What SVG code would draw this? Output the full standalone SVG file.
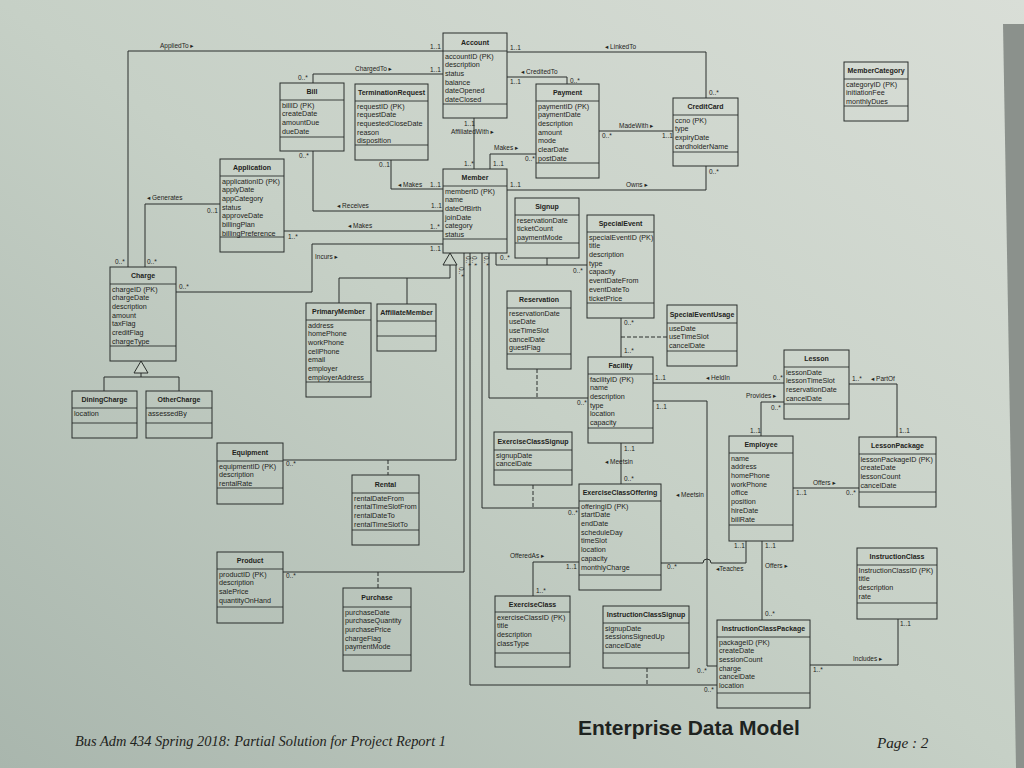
<svg xmlns="http://www.w3.org/2000/svg" width="1024" height="768" viewBox="0 0 1024 768">
<style>
.node rect{fill:none;stroke:#2a2f2c;stroke-width:1}
.node line{stroke:#2a2f2c;stroke-width:0.9}
.n{font-family:"Liberation Sans","DejaVu Sans",sans-serif;font-weight:bold;font-size:7px;text-anchor:middle;fill:#1e2320}
.a{font-family:"Liberation Sans","DejaVu Sans",sans-serif;font-size:7.2px;fill:#1e2320}
.m{font-family:"Liberation Sans","DejaVu Sans",sans-serif;font-size:6.5px;fill:#1e2320}
.l{font-family:"Liberation Sans","DejaVu Sans",sans-serif;font-size:6.5px;fill:#1e2320}
.c{fill:none;stroke:#2a2f2c;stroke-width:1}
.d{fill:none;stroke:#2a2f2c;stroke-width:1;stroke-dasharray:4 2}
.tri{fill:#c9d2c8;stroke:#2a2f2c;stroke-width:1}
</style>
<defs>
<linearGradient id="paper" x1="1" y1="0" x2="0" y2="1">
<stop offset="0" stop-color="#d9ded7"/>
<stop offset="0.5" stop-color="#c6d0c6"/>
<stop offset="1" stop-color="#a9b6ad"/>
</linearGradient>
</defs>
<rect width="1024" height="768" fill="url(#paper)"/>
<polygon points="1003,24 1024,24 1024,768 1016,768" fill="#8b918c"/>

<g id="connectors">
<polyline class="c" points="128,267 128,51 443,51"/>
<text class="l" x="160" y="48">AppliedTo ▸</text>
<text class="m" x="430" y="49">1..1</text>
<text class="m" x="115" y="264">0..*</text>
<polyline class="c" points="313,83 313,74 443,74"/>
<text class="l" x="355" y="71">ChargedTo ▸</text>
<text class="m" x="430" y="72">1..1</text>
<text class="m" x="298" y="80">0..*</text>
<polyline class="c" points="507,52 706,52 706,98"/>
<text class="l" x="605" y="49">◂ LinkedTo</text>
<text class="m" x="510" y="50">1..1</text>
<text class="m" x="709" y="95">0..*</text>
<polyline class="c" points="507,77 567,77 567,84"/>
<text class="l" x="521" y="74">◂ CreditedTo</text>
<text class="m" x="510" y="84">1..1</text>
<text class="m" x="570" y="83">0..*</text>
<line class="c" x1="474" y1="118" x2="474" y2="169"/>
<text class="m" x="464" y="126">1..1</text>
<text class="l" x="451" y="134">AffiliatedWith ▸</text>
<text class="m" x="464" y="166">1..*</text>
<polyline class="c" points="490,169 490,154 536,154"/>
<text class="l" x="494" y="150">Makes ▸</text>
<text class="m" x="493" y="166">1..1</text>
<text class="m" x="525" y="161">0..*</text>
<line class="c" x1="599" y1="131" x2="673" y2="131"/>
<text class="l" x="619" y="128">MadeWith ▸</text>
<text class="m" x="602" y="138">0..*</text>
<text class="m" x="662" y="138">1..1</text>
<polyline class="c" points="507,190 706,190 706,166"/>
<text class="l" x="626" y="187">Owns ▸</text>
<text class="m" x="510" y="187">1..1</text>
<text class="m" x="709" y="174">0..*</text>
<polyline class="c" points="391,160 391,189 443,189"/>
<text class="l" x="398" y="187">◂ Makes</text>
<text class="m" x="430" y="187">1..1</text>
<text class="m" x="379" y="167">0..1</text>
<polyline class="c" points="313,151 313,211 443,211"/>
<text class="l" x="337" y="208">◂ Receives</text>
<text class="m" x="431" y="208">1..1</text>
<text class="m" x="299" y="158">0..*</text>
<line class="c" x1="284" y1="231" x2="443" y2="231"/>
<text class="l" x="348" y="228">◂ Makes</text>
<text class="m" x="430" y="229">1..*</text>
<text class="m" x="288" y="239">1..*</text>
<polyline class="c" points="176,292 312,292 312,244 443,244"/>
<text class="l" x="315" y="259">Incurs ▸</text>
<text class="m" x="430" y="251">1..1</text>
<text class="m" x="179" y="289">0..*</text>
<polyline class="c" points="145,267 145,204 220,204"/>
<text class="l" x="147" y="200">◂ Generates</text>
<text class="m" x="207" y="213">0..1</text>
<text class="m" x="147" y="264">0..*</text>
<polygon class="tri" points="141,361 134,373 148,373"/>
<polyline class="c" points="141,373 141,377"/>
<polyline class="c" points="104,391 104,377 179,377 179,391"/>
<polygon class="tri" points="450,253 443,265 457,265"/>
<polyline class="c" points="450,265 450,278"/>
<polyline class="c" points="339,303 339,278 450,278"/>
<line class="c" x1="407" y1="278" x2="407" y2="304"/>
<polyline class="c" points="456,265 456,460 283,460"/>
<line class="d" x1="388" y1="460" x2="388" y2="475"/>
<text class="m" x="286" y="466">0..*</text>
<polyline class="c" points="464,253 464,572 283,572"/>
<line class="d" x1="378" y1="572" x2="378" y2="588"/>
<text class="m" x="286" y="578">0..*</text>
<polyline class="c" points="470,253 470,685 717,685"/>
<line class="d" x1="647" y1="668" x2="647" y2="685"/>
<text class="m" x="704" y="692">0..*</text>
<polyline class="c" points="482,253 482,508 579,508"/>
<line class="d" x1="533" y1="485" x2="533" y2="508"/>
<text class="m" x="568" y="515">0..*</text>
<polyline class="c" points="489,253 489,398 588,398"/>
<line class="d" x1="537" y1="369" x2="537" y2="398"/>
<text class="m" x="577" y="405">0..*</text>
<polyline class="c" points="496,253 496,265 587,265"/>
<line class="c" x1="547" y1="258" x2="547" y2="265"/>
<text class="m" x="500" y="260">0..*</text>
<text class="m" x="573" y="273">0..*</text>
<text class="m" transform="translate(459,267) rotate(90)">0..*</text>
<text class="m" transform="translate(466,256) rotate(90)">0..*</text>
<text class="m" transform="translate(472,256) rotate(90)">0..*</text>
<text class="m" transform="translate(484,256) rotate(90)">0..*</text>
<line class="c" x1="621" y1="318" x2="621" y2="357"/>
<line class="d" x1="621" y1="337" x2="667" y2="337"/>
<text class="m" x="624" y="325">0..*</text>
<text class="m" x="624" y="353">1..*</text>
<line class="c" x1="653" y1="383" x2="784" y2="383"/>
<text class="l" x="706" y="380">◂ HeldIn</text>
<text class="m" x="655" y="380">1..1</text>
<text class="m" x="773" y="380">0..*</text>
<polyline class="c" points="653,401 707,401 707,666 717,666"/>
<text class="m" x="656" y="409">1..1</text>
<text class="l" x="676" y="497">◂ Meetsin</text>
<text class="m" x="697" y="673">0..*</text>
<line class="c" x1="621" y1="443" x2="621" y2="484"/>
<text class="m" x="624" y="451">1..1</text>
<text class="l" x="605" y="464">◂ Meetsin</text>
<text class="m" x="624" y="481">0..*</text>
<polyline class="c" points="579,562 533,562 533,596"/>
<text class="l" x="510" y="558">OfferedAs ▸</text>
<text class="m" x="566" y="569">1..1</text>
<text class="m" x="536" y="593">1..*</text>
<path class="c" d="M661,563 H703 A4,4 0 0 1 711,563 H746 V541"/>
<text class="l" x="716" y="571">◂Teaches</text>
<text class="m" x="667" y="569">0..*</text>
<text class="m" x="734" y="548">1..1</text>
<line class="c" x1="762" y1="541" x2="762" y2="620"/>
<text class="m" x="765" y="548">1..1</text>
<text class="l" x="765" y="568">Offers ▸</text>
<text class="m" x="765" y="616">0..*</text>
<line class="c" x1="793" y1="488" x2="859" y2="488"/>
<text class="l" x="813" y="485">Offers ▸</text>
<text class="m" x="796" y="495">1..1</text>
<text class="m" x="846" y="495">0..*</text>
<polyline class="c" points="761,436 761,402 784,402"/>
<text class="l" x="746" y="398">Provides ▸</text>
<text class="m" x="771" y="410">0..*</text>
<text class="m" x="750" y="433">1..1</text>
<polyline class="c" points="849,384 897,384 897,437"/>
<text class="m" x="852" y="381">1..*</text>
<text class="l" x="871" y="381">◂ PartOf</text>
<text class="m" x="899" y="433">1..1</text>
<polyline class="c" points="810,665 898,665 898,619"/>
<text class="l" x="853" y="661">Includes ▸</text>
<text class="m" x="813" y="672">1..*</text>
<text class="m" x="900" y="626">1..1</text>
</g>

<g id="account" class="node"><rect x="443" y="33" width="64" height="85"/><line x1="443" y1="51" x2="507" y2="51"/><line x1="443" y1="104" x2="507" y2="104"/>
<text class="n" x="475" y="44.5">Account</text>
<text class="a" x="445" y="58.6">accountID (PK)</text><text class="a" x="445" y="67.3">description</text><text class="a" x="445" y="76">status</text><text class="a" x="445" y="84.7">balance</text><text class="a" x="445" y="93.4">dateOpened</text><text class="a" x="445" y="102.1">dateClosed</text></g>

<g id="bill" class="node"><rect x="280" y="83" width="64" height="68"/><line x1="280" y1="100" x2="344" y2="100"/><line x1="280" y1="137" x2="344" y2="137"/>
<text class="n" x="312" y="94">Bill</text>
<text class="a" x="282" y="107.6">billID (PK)</text><text class="a" x="282" y="116.3">createDate</text><text class="a" x="282" y="125">amountDue</text><text class="a" x="282" y="133.7">dueDate</text></g>

<g id="terminationrequest" class="node"><rect x="355" y="84" width="73" height="76"/><line x1="355" y1="101" x2="428" y2="101"/><line x1="355" y1="145" x2="428" y2="145"/>
<text class="n" x="391.5" y="95">TerminationRequest</text>
<text class="a" x="357" y="108.6">requestID (PK)</text><text class="a" x="357" y="117.3">requestDate</text><text class="a" x="357" y="126">requestedCloseDate</text><text class="a" x="357" y="134.7">reason</text><text class="a" x="357" y="143.4">disposition</text></g>

<g id="member" class="node"><rect x="443" y="169" width="64" height="84"/><line x1="443" y1="186" x2="507" y2="186"/><line x1="443" y1="239" x2="507" y2="239"/>
<text class="n" x="475" y="180">Member</text>
<text class="a" x="445" y="193.6">memberID (PK)</text><text class="a" x="445" y="202.3">name</text><text class="a" x="445" y="211">dateOfBirth</text><text class="a" x="445" y="219.7">joinDate</text><text class="a" x="445" y="228.4">category</text><text class="a" x="445" y="237.1">status</text></g>

<g id="payment" class="node"><rect x="536" y="84" width="63" height="94"/><line x1="536" y1="101" x2="599" y2="101"/><line x1="536" y1="163" x2="599" y2="163"/>
<text class="n" x="567.5" y="95">Payment</text>
<text class="a" x="538" y="108.6">paymentID (PK)</text><text class="a" x="538" y="117.3">paymentDate</text><text class="a" x="538" y="126">description</text><text class="a" x="538" y="134.7">amount</text><text class="a" x="538" y="143.4">mode</text><text class="a" x="538" y="152.1">clearDate</text><text class="a" x="538" y="160.8">postDate</text></g>

<g id="creditcard" class="node"><rect x="673" y="98" width="65" height="68"/><line x1="673" y1="115" x2="738" y2="115"/><line x1="673" y1="152" x2="738" y2="152"/>
<text class="n" x="705.5" y="109">CreditCard</text>
<text class="a" x="675" y="122.6">ccno (PK)</text><text class="a" x="675" y="131.3">type</text><text class="a" x="675" y="140">expiryDate</text><text class="a" x="675" y="148.7">cardholderName</text></g>

<g id="membercategory" class="node"><rect x="844" y="62" width="64" height="59"/><line x1="844" y1="79" x2="908" y2="79"/><line x1="844" y1="106" x2="908" y2="106"/>
<text class="n" x="876" y="73">MemberCategory</text>
<text class="a" x="846" y="86.6">categoryID (PK)</text><text class="a" x="846" y="95.3">initiationFee</text><text class="a" x="846" y="104">monthlyDues</text></g>

<g id="application" class="node"><rect x="220" y="159" width="64" height="93"/><line x1="220" y1="176" x2="284" y2="176"/><line x1="220" y1="237" x2="284" y2="237"/>
<text class="n" x="252" y="170">Application</text>
<text class="a" x="222" y="183.6">applicationID (PK)</text><text class="a" x="222" y="192.3">applyDate</text><text class="a" x="222" y="201">appCategory</text><text class="a" x="222" y="209.7">status</text><text class="a" x="222" y="218.4">approveDate</text><text class="a" x="222" y="227.1">billingPlan</text><text class="a" x="222" y="235.8">billingPreference</text></g>

<g id="signup" class="node"><rect x="515" y="198" width="64" height="60"/><line x1="515" y1="215" x2="579" y2="215"/><line x1="515" y1="243" x2="579" y2="243"/>
<text class="n" x="547" y="209">Signup</text>
<text class="a" x="517" y="222.6">reservationDate</text><text class="a" x="517" y="231.3">ticketCount</text><text class="a" x="517" y="240">paymentMode</text></g>

<g id="specialevent" class="node"><rect x="587" y="215" width="67" height="103"/><line x1="587" y1="232" x2="654" y2="232"/><line x1="587" y1="303" x2="654" y2="303"/>
<text class="n" x="620.5" y="226">SpecialEvent</text>
<text class="a" x="589" y="239.6">specialEventID (PK)</text><text class="a" x="589" y="248.3">title</text><text class="a" x="589" y="257">description</text><text class="a" x="589" y="265.7">type</text><text class="a" x="589" y="274.4">capacity</text><text class="a" x="589" y="283.1">eventDateFrom</text><text class="a" x="589" y="291.8">eventDateTo</text><text class="a" x="589" y="300.5">ticketPrice</text></g>

<g id="charge" class="node"><rect x="110" y="267" width="66" height="94"/><line x1="110" y1="284" x2="176" y2="284"/><line x1="110" y1="346" x2="176" y2="346"/>
<text class="n" x="143" y="278">Charge</text>
<text class="a" x="112" y="291.6">chargeID (PK)</text><text class="a" x="112" y="300.3">chargeDate</text><text class="a" x="112" y="309">description</text><text class="a" x="112" y="317.7">amount</text><text class="a" x="112" y="326.4">taxFlag</text><text class="a" x="112" y="335.1">creditFlag</text><text class="a" x="112" y="343.8">chargeType</text></g>

<g id="diningcharge" class="node"><rect x="72" y="391" width="65" height="47"/><line x1="72" y1="408" x2="137" y2="408"/><line x1="72" y1="423" x2="137" y2="423"/>
<text class="n" x="104.5" y="402">DiningCharge</text>
<text class="a" x="74" y="415.6">location</text></g>

<g id="othercharge" class="node"><rect x="146" y="391" width="66" height="47"/><line x1="146" y1="408" x2="212" y2="408"/><line x1="146" y1="423" x2="212" y2="423"/>
<text class="n" x="179" y="402">OtherCharge</text>
<text class="a" x="148" y="415.6">assessedBy</text></g>

<g id="equipment" class="node"><rect x="217" y="443" width="66" height="61"/><line x1="217" y1="461" x2="283" y2="461"/><line x1="217" y1="488" x2="283" y2="488"/>
<text class="n" x="250" y="455">Equipment</text>
<text class="a" x="219" y="468.6">equipmentID (PK)</text><text class="a" x="219" y="477.3">description</text><text class="a" x="219" y="486">rentalRate</text></g>

<g id="product" class="node"><rect x="217" y="552" width="66" height="71"/><line x1="217" y1="569" x2="283" y2="569"/><line x1="217" y1="607" x2="283" y2="607"/>
<text class="n" x="250" y="563">Product</text>
<text class="a" x="219" y="576.6">productID (PK)</text><text class="a" x="219" y="585.3">description</text><text class="a" x="219" y="594">salePrice</text><text class="a" x="219" y="602.7">quantityOnHand</text></g>

<g id="primarymember" class="node"><rect x="306" y="303" width="65" height="94"/><line x1="306" y1="320" x2="371" y2="320"/><line x1="306" y1="382" x2="371" y2="382"/>
<text class="n" x="338.5" y="314">PrimaryMember</text>
<text class="a" x="308" y="327.6">address</text><text class="a" x="308" y="336.3">homePhone</text><text class="a" x="308" y="345">workPhone</text><text class="a" x="308" y="353.7">cellPhone</text><text class="a" x="308" y="362.4">email</text><text class="a" x="308" y="371.1">employer</text><text class="a" x="308" y="379.8">employerAddress</text></g>

<g id="affiliatemember" class="node"><rect x="377" y="304" width="59" height="47"/><line x1="377" y1="321" x2="436" y2="321"/><line x1="377" y1="336" x2="436" y2="336"/>
<text class="n" x="406.5" y="315">AffiliateMember</text></g>

<g id="reservation" class="node"><rect x="507" y="291" width="64" height="78"/><line x1="507" y1="308" x2="571" y2="308"/><line x1="507" y1="354" x2="571" y2="354"/>
<text class="n" x="539" y="302">Reservation</text>
<text class="a" x="509" y="315.6">reservationDate</text><text class="a" x="509" y="324.3">useDate</text><text class="a" x="509" y="333">useTimeSlot</text><text class="a" x="509" y="341.7">cancelDate</text><text class="a" x="509" y="350.4">guestFlag</text></g>

<g id="specialeventusage" class="node"><rect x="667" y="305" width="70" height="61"/><line x1="667" y1="323" x2="737" y2="323"/><line x1="667" y1="351" x2="737" y2="351"/>
<text class="n" x="702" y="317">SpecialEventUsage</text>
<text class="a" x="669" y="330.6">useDate</text><text class="a" x="669" y="339.3">useTimeSlot</text><text class="a" x="669" y="348">cancelDate</text></g>

<g id="facility" class="node"><rect x="588" y="357" width="65" height="86"/><line x1="588" y1="374" x2="653" y2="374"/><line x1="588" y1="428" x2="653" y2="428"/>
<text class="n" x="620.5" y="368">Facility</text>
<text class="a" x="590" y="381.6">facilityID (PK)</text><text class="a" x="590" y="390.3">name</text><text class="a" x="590" y="399">description</text><text class="a" x="590" y="407.7">type</text><text class="a" x="590" y="416.4">location</text><text class="a" x="590" y="425.1">capacity</text></g>

<g id="lesson" class="node"><rect x="784" y="350" width="65" height="69"/><line x1="784" y1="367" x2="849" y2="367"/><line x1="784" y1="404" x2="849" y2="404"/>
<text class="n" x="816.5" y="361">Lesson</text>
<text class="a" x="786" y="374.6">lessonDate</text><text class="a" x="786" y="383.3">lessonTimeSlot</text><text class="a" x="786" y="392">reservationDate</text><text class="a" x="786" y="400.7">cancelDate</text></g>

<g id="employee" class="node"><rect x="729" y="436" width="64" height="105"/><line x1="729" y1="453" x2="793" y2="453"/><line x1="729" y1="525" x2="793" y2="525"/>
<text class="n" x="761" y="447">Employee</text>
<text class="a" x="731" y="460.6">name</text><text class="a" x="731" y="469.3">address</text><text class="a" x="731" y="478">homePhone</text><text class="a" x="731" y="486.7">workPhone</text><text class="a" x="731" y="495.4">office</text><text class="a" x="731" y="504.1">position</text><text class="a" x="731" y="512.8">hireDate</text><text class="a" x="731" y="521.5">billRate</text></g>

<g id="lessonpackage" class="node"><rect x="859" y="437" width="77" height="70"/><line x1="859" y1="454" x2="936" y2="454"/><line x1="859" y1="492" x2="936" y2="492"/>
<text class="n" x="897.5" y="448">LessonPackage</text>
<text class="a" x="860.5" y="461.6">lessonPackageID (PK)</text><text class="a" x="860.5" y="470.3">createDate</text><text class="a" x="860.5" y="479">lessonCount</text><text class="a" x="860.5" y="487.7">cancelDate</text></g>

<g id="exerciseclasssignup" class="node"><rect x="494" y="432" width="78" height="53"/><line x1="494" y1="450" x2="572" y2="450"/><line x1="494" y1="470" x2="572" y2="470"/>
<text class="n" x="533" y="443.5">ExerciseClassSignup</text>
<text class="a" x="496" y="457.6">signupDate</text><text class="a" x="496" y="466.3">cancelDate</text></g>

<g id="exerciseclassoffering" class="node"><rect x="579" y="484" width="82" height="106"/><line x1="579" y1="501" x2="661" y2="501"/><line x1="579" y1="575" x2="661" y2="575"/>
<text class="n" x="620" y="495">ExerciseClassOffering</text>
<text class="a" x="581" y="508.6">offeringID (PK)</text><text class="a" x="581" y="517.3">startDate</text><text class="a" x="581" y="526">endDate</text><text class="a" x="581" y="534.7">scheduleDay</text><text class="a" x="581" y="543.4">timeSlot</text><text class="a" x="581" y="552.1">location</text><text class="a" x="581" y="560.8">capacity</text><text class="a" x="581" y="569.5">monthlyCharge</text></g>

<g id="exerciseclass" class="node"><rect x="495" y="596" width="75" height="71"/><line x1="495" y1="612" x2="570" y2="612"/><line x1="495" y1="653" x2="570" y2="653"/>
<text class="n" x="532.5" y="606.5">ExerciseClass</text>
<text class="a" x="497" y="619.6">exerciseClassID (PK)</text><text class="a" x="497" y="628.3">title</text><text class="a" x="497" y="637">description</text><text class="a" x="497" y="645.7">classType</text></g>

<g id="instructionclasssignup" class="node"><rect x="603" y="606" width="86" height="62"/><line x1="603" y1="623" x2="689" y2="623"/><line x1="603" y1="653" x2="689" y2="653"/>
<text class="n" x="646" y="617">InstructionClassSignup</text>
<text class="a" x="605" y="630.6">signupDate</text><text class="a" x="605" y="639.3">sessionsSignedUp</text><text class="a" x="605" y="648">cancelDate</text></g>

<g id="instructionclasspackage" class="node"><rect x="717" y="620" width="93" height="88"/><line x1="717" y1="637" x2="810" y2="637"/><line x1="717" y1="693" x2="810" y2="693"/>
<text class="n" x="763.5" y="631">InstructionClassPackage</text>
<text class="a" x="719" y="644.6">packageID (PK)</text><text class="a" x="719" y="653.3">createDate</text><text class="a" x="719" y="662">sessionCount</text><text class="a" x="719" y="670.7">charge</text><text class="a" x="719" y="679.4">cancelDate</text><text class="a" x="719" y="688.1">location</text></g>

<g id="instructionclass" class="node"><rect x="857" y="548" width="80" height="71"/><line x1="857" y1="565" x2="937" y2="565"/><line x1="857" y1="603" x2="937" y2="603"/>
<text class="n" x="897" y="559">InstructionClass</text>
<text class="a" x="858.5" y="572.6">InstructionClassID (PK)</text><text class="a" x="858.5" y="581.3">title</text><text class="a" x="858.5" y="590">description</text><text class="a" x="858.5" y="598.7">rate</text></g>

<g id="rental" class="node"><rect x="352" y="475" width="67" height="70"/><line x1="352" y1="493" x2="419" y2="493"/><line x1="352" y1="530" x2="419" y2="530"/>
<text class="n" x="385.5" y="486.5">Rental</text>
<text class="a" x="354" y="500.6">rentalDateFrom</text><text class="a" x="354" y="509.3">rentalTimeSlotFrom</text><text class="a" x="354" y="518">rentalDateTo</text><text class="a" x="354" y="526.7">rentalTimeSlotTo</text></g>

<g id="purchase" class="node"><rect x="343" y="588" width="68" height="83"/><line x1="343" y1="607" x2="411" y2="607"/><line x1="343" y1="655" x2="411" y2="655"/>
<text class="n" x="377" y="600">Purchase</text>
<text class="a" x="345" y="614.6">purchaseDate</text><text class="a" x="345" y="623.3">purchaseQuantity</text><text class="a" x="345" y="632">purchasePrice</text><text class="a" x="345" y="640.7">chargeFlag</text><text class="a" x="345" y="649.4">paymentMode</text></g>

<text x="75" y="746" font-family="'Liberation Serif','DejaVu Serif',serif" font-style="italic" font-size="14.4" fill="#1e2320">Bus Adm 434 Spring 2018: Partial Solution for Project Report 1</text>
<text x="578" y="735" font-family="'Liberation Sans','DejaVu Sans',sans-serif" font-weight="bold" font-size="21" fill="#1e2320">Enterprise Data Model</text>
<text x="877" y="748" font-family="'Liberation Serif','DejaVu Serif',serif" font-style="italic" font-size="15.2" fill="#1e2320">Page : 2</text>
</svg>
